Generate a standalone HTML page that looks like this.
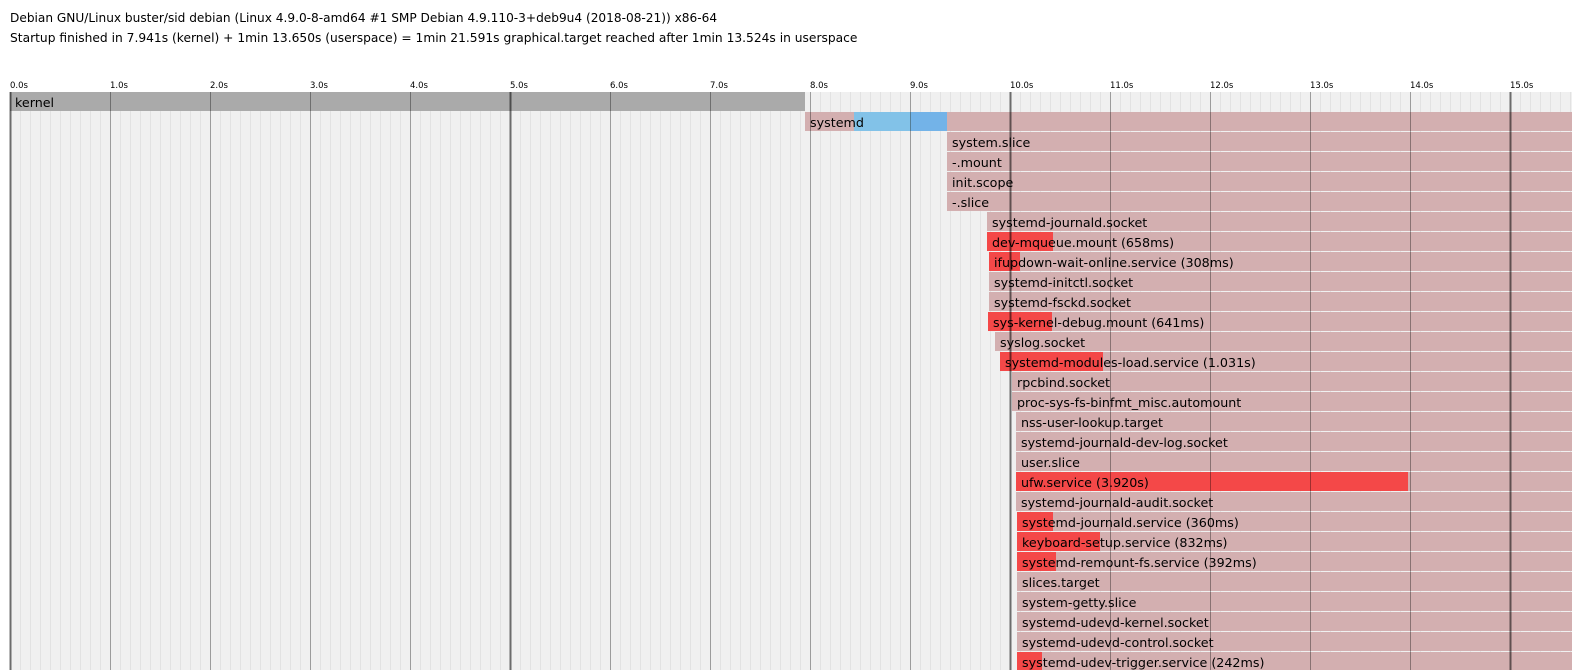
<!DOCTYPE html>
<html><head><meta charset="utf-8"><style>
html,body{margin:0;padding:0;background:#fff;width:1572px;height:670px;overflow:hidden}
svg{display:block}
text{font-family:"DejaVu Sans","Liberation Sans",sans-serif}
</style></head><body>
<svg width="1572" height="670" xmlns="http://www.w3.org/2000/svg">
<text x="10" y="22" font-size="12.15">Debian GNU/Linux buster/sid debian (Linux 4.9.0-8-amd64 #1 SMP Debian 4.9.110-3+deb9u4 (2018-08-21)) x86-64</text>
<text x="10" y="42" font-size="12.25">Startup finished in 7.941s (kernel) + 1min 13.650s (userspace) = 1min 21.591s graphical.target reached after 1min 13.524s in userspace</text>
<rect x="10" y="92" width="1562" height="578" fill="#f0f0f0"/>
<g id="minor" stroke="#e2e2e2" stroke-width="1"></g>
<g id="bars"></g>
<g id="major"></g>
<g id="labels" font-size="12.7" fill="#000"></g>
<g id="ticks" font-size="8.5" fill="#000"></g>
</svg>
<script>
const NS="http://www.w3.org/2000/svg";
function el(p,t,a,txt){const e=document.createElementNS(NS,t);for(const k in a)e.setAttribute(k,a[k]);if(txt!=null)e.textContent=txt;document.getElementById(p).appendChild(e);return e;}
for(let x=10;x<1572;x+=10){if((x-10)%100)el("minor","line",{x1:x+.5,x2:x+.5,y1:92,y2:670});}
for(let i=0;i<=15;i++){const x=10+i*100;
 el("major","line",{x1:x+.5,x2:x+.5,y1:92,y2:670,stroke:"#000","stroke-width":i%5==0?2:1,"stroke-opacity":i%5==0?0.55:0.35});
 el("ticks","text",{x:x,y:88},i.toFixed(1)+"s");}
const D=2;
const rows=[
["kernel",10,0,0],
["systemd",803,0,0],
["system.slice",945],["-.mount",945],["init.scope",945],["-.slice",945],
["systemd-journald.socket",985],
["dev-mqueue.mount (658ms)",985,1051],
["ifupdown-wait-online.service (308ms)",987,1018],
["systemd-initctl.socket",987],["systemd-fsckd.socket",987],
["sys-kernel-debug.mount (641ms)",986,1050],
["syslog.socket",993],
["systemd-modules-load.service (1.031s)",998,1101],
["rpcbind.socket",1010],["proc-sys-fs-binfmt_misc.automount",1010],
["nss-user-lookup.target",1014],["systemd-journald-dev-log.socket",1014],
["user.slice",1014],["ufw.service (3.920s)",1014,1406],
["systemd-journald-audit.socket",1014],
["systemd-journald.service (360ms)",1015,1051],
["keyboard-setup.service (832ms)",1015,1098],
["systemd-remount-fs.service (392ms)",1015,1054],
["slices.target",1015],["system-getty.slice",1015],
["systemd-udevd-kernel.socket",1015],["systemd-udevd-control.socket",1015],
["systemd-udev-trigger.service (242ms)",1015,1040]];
rows.forEach((r,i)=>{const y=92+20*i;
 if(i==0){el("bars","rect",{x:10,y:y,width:793+D,height:19,fill:"#aaaaaa"});el("labels","text",{x:15,y:y+15},r[0]);return;}
 const s=r[1]+D;
 el("bars","rect",{x:s,y:y,width:1572-s,height:19,fill:"#d3afb0"});
 if(i==1){el("bars","rect",{x:852+D,y:y,width:57,height:19,fill:"#82c2e8"});el("bars","rect",{x:909+D,y:y,width:36,height:19,fill:"#73b3e8"});}
 if(r[2])el("bars","rect",{x:s,y:y,width:r[2]-r[1],height:19,fill:"#f44848"});
 el("labels","text",{x:s+5,y:y+15},r[0]);
});
</script>
</body></html>
